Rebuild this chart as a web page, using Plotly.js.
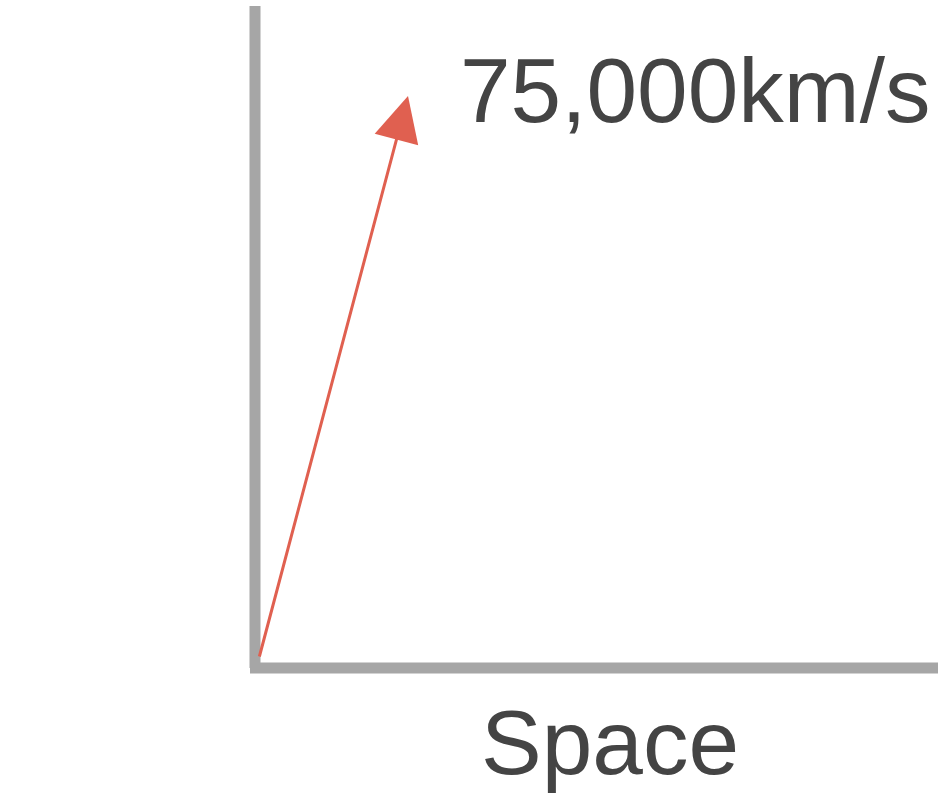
<!DOCTYPE html>
<html lang="en">
  <head>
    <meta charset="UTF-8" />
    <title>Space-Time diagram</title>
    <script src="https://cdn.plot.ly/plotly-3.0.1.min.js"></script>
    <style>
      html, body { margin: 0; padding: 0; background: #ffffff; }
      #chart { width: 943px; height: 795px; }
    </style>
  </head>
  <body>
    <div id="chart"></div>
    <script>
      // axis frame (pixel-like units, y grows downward)
      const timeAxisX = [255, 255];
      const timeAxisY = [6, 668];
      const spaceAxisX = [250, 938];
      const spaceAxisY = [668, 668];
      // worldline arrow: start and tip
      const arrowStart = [259, 658];
      const arrowTip = [408, 96];
      const speedLabel = "75,000km/s";
      const axisLabels = ["Time", "Space"];

      const grey = "#a6a6a6";
      const textColor = "#444444";
      const fontFamily = "Liberation Sans, Arial, sans-serif";

      const data = [
        { x: timeAxisX, y: timeAxisY, mode: "lines", line: { color: grey, width: 11 }, hoverinfo: "skip" },
        { x: spaceAxisX, y: spaceAxisY, mode: "lines", line: { color: grey, width: 11 }, hoverinfo: "skip" },
      ];

      const layout = {
        width: 943,
        height: 795,
        margin: { l: 0, r: 0, t: 0, b: 0 },
        showlegend: false,
        paper_bgcolor: "#ffffff",
        plot_bgcolor: "#ffffff",
        xaxis: { range: [0, 943], visible: false, fixedrange: true },
        yaxis: { range: [795, 0], visible: false, fixedrange: true },
        annotations: [
          {
            x: arrowTip[0], y: arrowTip[1], ax: arrowStart[0], ay: arrowStart[1],
            xref: "x", yref: "y", axref: "x", ayref: "y",
            text: "", showarrow: true, arrowhead: 2, arrowsize: 3,
            arrowwidth: 3, arrowcolor: "#e06050",
          },
          {
            x: 458, y: 90, xref: "x", yref: "y", xanchor: "left", yanchor: "middle",
            text: speedLabel, showarrow: false,
            font: { family: fontFamily, size: 91, color: textColor },
          },
          {
            x: -4, y: 322, xref: "x", yref: "y", xanchor: "left", yanchor: "middle",
            text: axisLabels[0], showarrow: false,
            font: { family: fontFamily, size: 91, color: textColor },
          },
          {
            x: 610, y: 742, xref: "x", yref: "y", xanchor: "center", yanchor: "middle",
            text: axisLabels[1], showarrow: false,
            font: { family: fontFamily, size: 91, color: textColor },
          },
        ],
      };

      Plotly.newPlot("chart", data, layout, { displayModeBar: false, staticPlot: true });
    </script>
  </body>
</html>
